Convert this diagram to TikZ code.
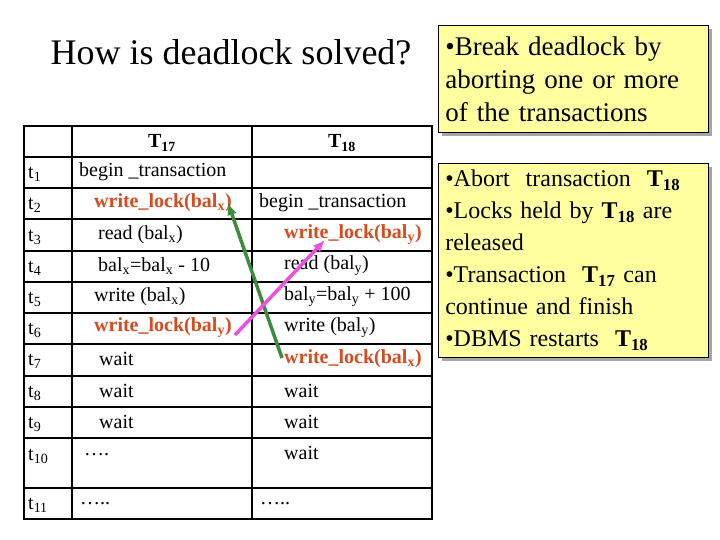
\documentclass[tikz,border=0pt]{standalone}
\usepackage{fontspec}
\setmainfont{Liberation Serif}
\usetikzlibrary{arrows.meta}
\begin{document}
\begin{tikzpicture}[x=1pt,y=-1pt,
  cell/.style={anchor=west,inner sep=0pt,font=\fontsize{20}{22}\selectfont},
  red/.style={cell,text={rgb,255:red,215;green,75;blue,30},font=\fontsize{20}{22}\selectfont\bfseries},
  hd/.style={inner sep=0pt,font=\fontsize{20}{22}\selectfont\bfseries},
  info/.style={draw=black,line width=0.6pt,fill={rgb,255:red,255;green,255;blue,160},anchor=north west,align=left,inner xsep=7pt,inner ysep=3pt,text width=256pt}]
\useasboundingbox (0,0) rectangle (720,540);
\fill[white] (0,0) rectangle (720,540);
\node[font=\fontsize{36}{40}\selectfont] (title) at (231,52) {How is deadlock solved?};
% table
\draw[line width=2pt] (24,126) rectangle (432,519);
\foreach \y in {157,188,219,251,282,313,344,376,407,438,488}{\draw[line width=1.6pt] (24,\y) -- (432,\y);}
\draw[line width=1.6pt] (72,126) -- (72,519);
\draw[line width=1.6pt] (252,126) -- (252,519);
\node[hd] (h17) at (162,143) {T\textsubscript{17}};
\node[hd] (h18) at (342,143) {T\textsubscript{18}};
\foreach \n/\y in {1/174,2/205,3/237,4/268,5/299,6/330,7/361,8/393,9/424,10/456,11/505}{
  \node[cell] (t\n) at (28,\y) {t\textsubscript{\n}};}
\node[cell] (a1) at (79,172) {begin \_transaction};
\node[red] (a2) at (94,203) {write\_lock(bal\textsubscript{x})};
\node[cell] (a3) at (98,235) {read (bal\textsubscript{x})};
\node[cell] (a4) at (98,266) {bal\textsubscript{x}=bal\textsubscript{x} - 10};
\node[cell] (a5) at (94,297) {write (bal\textsubscript{x})};
\node[red] (a6) at (94,328) {write\_lock(bal\textsubscript{y})};
\node[cell] (a7) at (99,359) {wait};
\node[cell] (a8) at (99,391) {wait};
\node[cell] (a9) at (99,422) {wait};
\node[cell] (a10) at (84,455) {\dots.};
\node[cell] (a11) at (80,504) {\dots..};
\node[cell] (b2) at (259,203) {begin \_transaction};
\node[red] (b3) at (284,235) {write\_lock(bal\textsubscript{y})};
\node[cell] (b4) at (284,266) {read (bal\textsubscript{y})};
\node[cell] (b5) at (284,297) {bal\textsubscript{y}=bal\textsubscript{y} + 100};
\node[cell] (b6) at (284,328) {write (bal\textsubscript{y})};
\node[red] (b7) at (284,359) {write\_lock(bal\textsubscript{x})};
\node[cell] (b8) at (284,391) {wait};
\node[cell] (b9) at (284,422) {wait};
\node[cell] (b10) at (284,453) {wait};
\node[cell] (b11) at (260,504) {\dots..};
% arrows
\coordinate (g1) at (282,358); \coordinate (g2) at (228,203);
\coordinate (m1) at (235,335); \coordinate (m2) at (325,240);
\draw[line width=3.5pt,color={rgb,255:red,60;green,140;blue,60},-{Latex[length=12pt,width=10pt]}] (g1) -- (g2);
\draw[line width=3.5pt,color={rgb,255:red,235;green,80;blue,225},-{Latex[length=12pt,width=10pt]}] (m1) -- (m2);
% info boxes
\fill[gray!70] (442,29) rectangle (712,136);
\node[info,minimum height=107,font=\fontsize{27}{33}\selectfont] (box1) at (438,25)
 {•Break deadlock by\\aborting one or more\\of the transactions};
\fill[gray!70] (442,167) rectangle (712,361);
\node[info,minimum height=194,font=\fontsize{24}{32}\selectfont] (box2) at (438,163)
 {•Abort\ \ transaction\ \ \textbf{T\textsubscript{18}}\\•Locks held by \textbf{T\textsubscript{18}} are\\released\\•Transaction\ \ \textbf{T\textsubscript{17}} can\\continue and finish\\•DBMS restarts\ \ \textbf{T\textsubscript{18}}};
\end{tikzpicture}
\end{document}
